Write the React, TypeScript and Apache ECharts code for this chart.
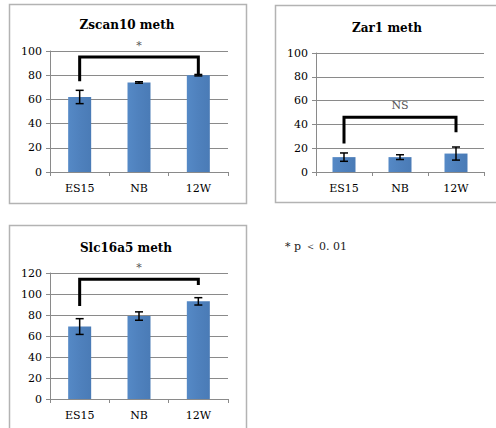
import React, { useEffect, useRef } from "react";
import * as echarts from "echarts";

const categories = ["ES15", "NB", "12W"];

const zscanMean = [62, 74, 80];
const zscanErr = [5.5, 0.6, 0.6];
const zscanBracket = [0, 2, 75, 95, 81];
const zscanSig = "*";

const zar1Mean = [12.5, 12.5, 15.5];
const zar1Err = [3.5, 2, 5.5];
const zar1Bracket = [0, 2, 24, 46, 33.5];
const zar1Sig = "NS";

const slcMean = [69, 79, 93];
const slcErr = [7.5, 4, 3.5];
const slcBracket = [0, 2, 88.5, 114, 108.5];
const slcSig = "*";

const titles = ["Zscan10 meth", "Zar1 meth", "Slc16a5 meth"];
const yMax = [100, 100, 120];
const footnote = "* p \uFF1C 0. 01";

const SERIF = "'DejaVu Serif', 'Liberation Serif', serif";
const BAR = "#4f81bd";
const GRIDC = "#8a8a8a";
const BORDER = "#b3b3b3";

export default function App() {
  const ref = useRef<HTMLDivElement>(null);
  useEffect(() => {
    if (!ref.current) return;
    const chart = echarts.init(ref.current, undefined, { renderer: "svg" });
    const grids = [
      { left: 50, top: 51, width: 178, height: 121 },
      { left: 316, top: 53, width: 168, height: 119 },
      { left: 50, top: 273, width: 178, height: 126 },
    ];
    const means = [zscanMean, zar1Mean, slcMean];
    const errs = [zscanErr, zar1Err, slcErr];
    const brackets = [zscanBracket, zar1Bracket, slcBracket];
    const sigs = [zscanSig, zar1Sig, slcSig];

    const xAxis = grids.map((_, i) => ({
      type: "category",
      gridIndex: i,
      data: categories,
      axisLine: { lineStyle: { color: GRIDC, width: 1 } },
      axisTick: { show: true, length: 4, lineStyle: { color: GRIDC } },
      axisLabel: { color: "#000", fontFamily: SERIF, fontSize: 11, margin: 11 },
    }));
    const yAxis = grids.map((_, i) => ({
      type: "value",
      gridIndex: i,
      min: 0,
      max: yMax[i],
      interval: 20,
      axisLine: { show: true, lineStyle: { color: GRIDC, width: 1 } },
      axisTick: { show: true, length: 4, lineStyle: { color: GRIDC } },
      splitLine: { lineStyle: { color: GRIDC, width: 1 } },
      axisLabel: { color: "#000", fontFamily: SERIF, fontSize: 11, margin: 8 },
    }));

    const series: any[] = [];
    grids.forEach((_, i) => {
      series.push({
        type: "bar",
        xAxisIndex: i,
        yAxisIndex: i,
        data: means[i],
        barWidth: 23,
        itemStyle: {
          color: new echarts.graphic.LinearGradient(0, 0, 1, 0, [
            { offset: 0, color: "#5589c6" },
            { offset: 0.5, color: "#4f81bd" },
            { offset: 1, color: "#4a7bb6" },
          ]),
        },
      });
      series.push({
        type: "custom",
        xAxisIndex: i,
        yAxisIndex: i,
        data: means[i].map((m, k) => [k, m - errs[i][k], m + errs[i][k]]),
        encode: { x: 0, y: [1, 2] },
        renderItem: (params: any, api: any) => {
          const lo = api.coord([api.value(0), api.value(1)]);
          const hi = api.coord([api.value(0), api.value(2)]);
          const cw = 4;
          const st = { stroke: "#000", lineWidth: 1.5 };
          return {
            type: "group",
            children: [
              { type: "line", shape: { x1: lo[0], y1: lo[1], x2: hi[0], y2: hi[1] }, style: st },
              { type: "line", shape: { x1: lo[0] - cw, y1: lo[1], x2: lo[0] + cw, y2: lo[1] }, style: st },
              { type: "line", shape: { x1: hi[0] - cw, y1: hi[1], x2: hi[0] + cw, y2: hi[1] }, style: st },
            ],
          };
        },
        z: 5,
      });
      series.push({
        type: "custom",
        xAxisIndex: i,
        yAxisIndex: i,
        clip: false,
        data: [brackets[i]],
        encode: { x: [0, 1], y: [2, 3, 4] },
        renderItem: (params: any, api: any) => {
          const p1 = api.coord([api.value(0), api.value(2)]);
          const p2 = api.coord([api.value(0), api.value(3)]);
          const p3 = api.coord([api.value(1), api.value(3)]);
          const p4 = api.coord([api.value(1), api.value(4)]);
          return {
            type: "group",
            children: [
              {
                type: "polyline",
                shape: { points: [p1, p2, p3, p4] },
                style: { stroke: "#000", lineWidth: 3, fill: null, lineJoin: "miter" },
              },
              {
                type: "text",
                x: (p2[0] + p3[0]) / 2,
                y: p2[1] - 12,
                style: {
                  text: sigs[i],
                  fill: "#555",
                  font: `11px ${SERIF}`,
                  align: "center",
                  verticalAlign: "middle",
                },
              },
            ],
          };
        },
        z: 6,
      });
    });

    const option: any = {
      animation: false,
      grid: grids.map((g) => ({ ...g, containLabel: false })),
      xAxis,
      yAxis,
      series,
      graphic: [
        { type: "rect", shape: { x: 9.5, y: 4.5, width: 237, height: 199 }, style: { fill: "none", stroke: BORDER, lineWidth: 1.5 } },
        { type: "rect", shape: { x: 275.5, y: 5.5, width: 240, height: 197 }, style: { fill: "none", stroke: BORDER, lineWidth: 1.5 } },
        { type: "rect", shape: { x: 9.5, y: 225.5, width: 237, height: 230 }, style: { fill: "none", stroke: BORDER, lineWidth: 1.5 } },
        { type: "text", x: 127, y: 25, style: { text: titles[0], font: `bold 12px ${SERIF}`, fill: "#000", align: "center", verticalAlign: "middle" } },
        { type: "text", x: 387, y: 28, style: { text: titles[1], font: `bold 12px ${SERIF}`, fill: "#000", align: "center", verticalAlign: "middle" } },
        { type: "text", x: 126, y: 248, style: { text: titles[2], font: `bold 12px ${SERIF}`, fill: "#000", align: "center", verticalAlign: "middle" } },
        { type: "text", x: 285, y: 246, style: { text: footnote, font: `11px ${SERIF}`, fill: "#222", align: "left", verticalAlign: "middle" } },
      ],
    };
    chart.setOption(option);
    return () => chart.dispose();
  }, []);
  return (
    <div
      ref={ref}
      style={{ position: "fixed", left: 0, top: 0, width: 496, height: 428, background: "#fff" }}
    />
  );
}
